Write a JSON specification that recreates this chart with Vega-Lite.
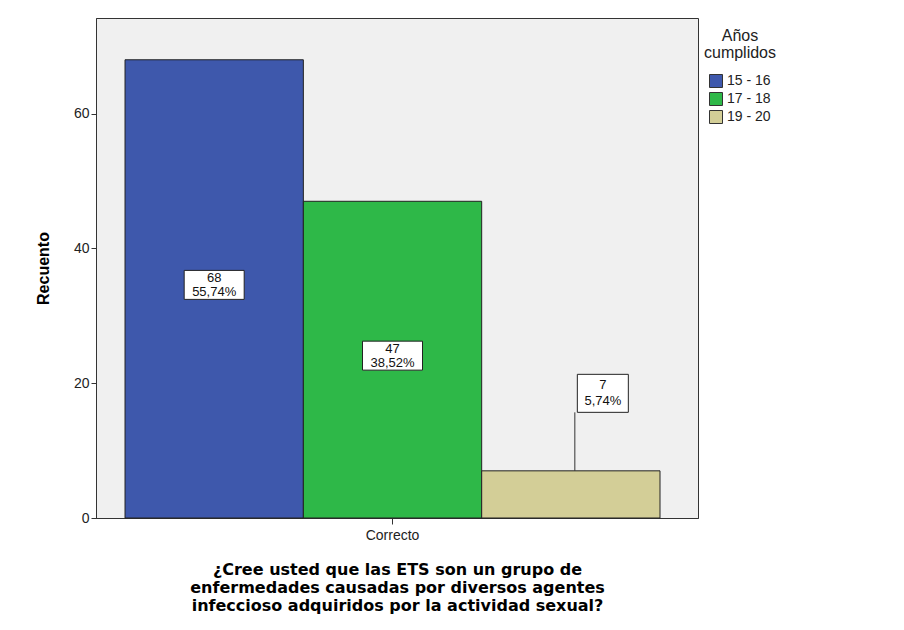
{
  "$schema": "https://vega.github.io/schema/vega-lite/v6.json",
  "autosize": {"type": "none"},
  "width": 602,
  "height": 500,
  "padding": {"left": 96, "top": 18, "right": 206, "bottom": 112},
  "background": "white",
  "config": {
    "font": "Liberation Sans",
    "view": {"fill": "#f0f0f0", "stroke": "#333333", "strokeWidth": 1},
    "axis": {"grid": false, "domainColor": "#333333", "tickColor": "#333333", "labelColor": "#222222", "titleColor": "#000000", "labelFont": "Liberation Sans", "titleFont": "Liberation Sans"}
  },
  "data": {
    "values": [
      {"respuesta": "Correcto", "edad": "15 - 16", "recuento": 68, "porcentaje": "55,74%"},
      {"respuesta": "Correcto", "edad": "17 - 18", "recuento": 47, "porcentaje": "38,52%"},
      {"respuesta": "Correcto", "edad": "19 - 20", "recuento": 7, "porcentaje": "5,74%"}
    ]
  },
  "transform": [
    {"calculate": "datum.recuento > 15 ? datum.recuento / 2 : datum.recuento + 11.5", "as": "labelY"},
    {"calculate": "datum.recuento + '|' + datum.porcentaje", "as": "etiqueta"}
  ],
  "encoding": {
    "x": {
      "field": "edad", "type": "nominal",
      "scale": {"domain": ["15 - 16", "17 - 18", "19 - 20"], "paddingInner": 0, "paddingOuter": 0.1879, "align": 0.433},
      "axis": {
        "values": ["17 - 18"], "labelExpr": "'Correcto'",
        "labelAngle": 0, "labelFontSize": 14, "labelPadding": 4, "tickSize": 6,
        "title": ["¿Cree usted que las ETS son un grupo de", "enfermedades causadas por diversos agentes", "infeccioso adquiridos por la actividad sexual?"],
        "titleFont": "DejaVu Sans", "titleFontSize": 16, "titleFontWeight": "bold", "titleLineHeight": 18, "titlePadding": 19
      }
    }
  },
  "layer": [
    {
      "mark": {"type": "bar", "stroke": "#222222", "strokeWidth": 1},
      "encoding": {
        "y": {
          "field": "recuento", "type": "quantitative",
          "scale": {"domain": [0, 74.2], "nice": false, "zero": true},
          "axis": {"values": [0, 20, 40, 60], "labelFontSize": 14, "tickSize": 5, "labelPadding": 2, "title": "Recuento", "titleFontSize": 16, "titleFontWeight": "bold", "titlePadding": 22}
        },
        "color": {
          "field": "edad", "type": "nominal",
          "scale": {"domain": ["15 - 16", "17 - 18", "19 - 20"], "range": ["#3e58ac", "#2eb848", "#d3ce97"]},
          "legend": {
            "title": ["Años", "cumplidos"],
            "orient": "none", "legendX": 608, "legendY": 10,
            "titleFontSize": 16, "titleFontWeight": "normal", "titleLineHeight": 17, "titleAlign": "center", "titleAnchor": "middle", "titleColor": "#222222", "titlePadding": 13,
            "labelFontSize": 14, "labelColor": "#222222", "labelOffset": 4,
            "symbolType": "square", "symbolSize": 169, "symbolStrokeColor": "#333333", "symbolStrokeWidth": 1, "rowPadding": 0
          }
        }
      }
    },
    {
      "transform": [{"filter": "datum.recuento <= 15"}],
      "mark": {"type": "rule", "color": "#333333", "strokeWidth": 1, "xOffset": 4, "y2Offset": 19},
      "encoding": {
        "y": {"field": "recuento", "type": "quantitative"},
        "y2": {"field": "labelY"}
      }
    },
    {
      "transform": [{"filter": "datum.recuento > 15"}],
      "mark": {"type": "point", "shape": "M-1,-0.483H1V0.483H-1Z", "size": 3600, "filled": true, "fill": "white", "stroke": "#222222", "strokeWidth": 1, "opacity": 1, "yOffset": -4},
      "encoding": {
        "y": {"field": "labelY", "type": "quantitative"}
      }
    },
    {
      "transform": [{"filter": "datum.recuento <= 15"}],
      "mark": {"type": "point", "shape": "M-1,-0.745H1V0.745H-1Z", "size": 2601, "filled": true, "fill": "white", "stroke": "#222222", "strokeWidth": 1, "opacity": 1, "xOffset": 32},
      "encoding": {
        "y": {"field": "labelY", "type": "quantitative"}
      }
    },
    {
      "transform": [{"filter": "datum.recuento > 15"}],
      "mark": {"type": "text", "lineBreak": "|", "fontSize": 13, "lineHeight": 14, "color": "#111111", "baseline": "middle", "dy": -11},
      "encoding": {
        "y": {"field": "labelY", "type": "quantitative"},
        "text": {"field": "etiqueta"}
      }
    },
    {
      "transform": [{"filter": "datum.recuento <= 15"}],
      "mark": {"type": "text", "lineBreak": "|", "fontSize": 13, "lineHeight": 16, "color": "#111111", "baseline": "middle", "xOffset": 32, "dy": -8},
      "encoding": {
        "y": {"field": "labelY", "type": "quantitative"},
        "text": {"field": "etiqueta"}
      }
    }
  ]
}
